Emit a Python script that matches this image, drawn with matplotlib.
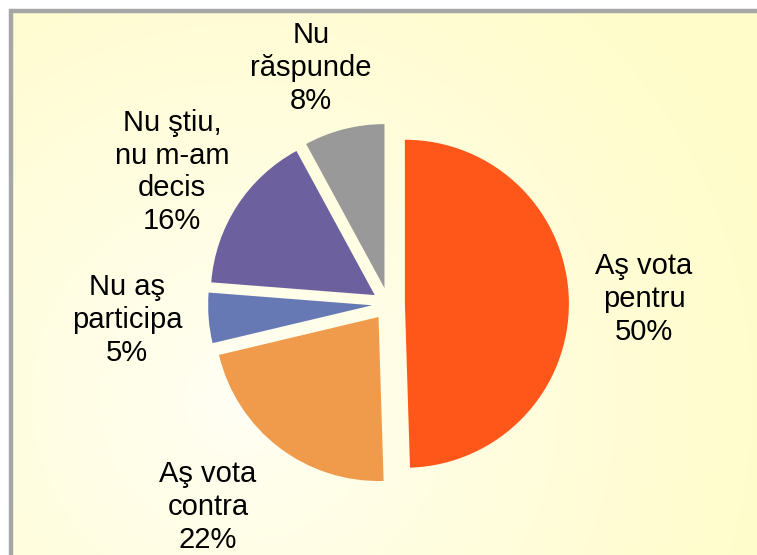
import numpy as np
import matplotlib.pyplot as plt

plt.rcParams['font.family'] = ['Liberation Sans', 'DejaVu Sans']

# survey answers, clockwise from the top
labels = ['Aş vota\npentru', 'Aş vota\ncontra', 'Nu aş\nparticipa',
          'Nu ştiu,\nnu m-am\ndecis', 'Nu\nrăspunde']
values = [50, 22, 5, 16, 8]
colors = ['#FF5719', '#F09B4B', '#6679B5', '#6C619E', '#999999']

# where each label sits (data units, pie radius = 1)
label_pos = [(1.558, 0.03), (-1.101, -1.238), (-1.595, -0.098),
             (-1.320, 0.805), (-0.473, 1.439)]

W, H = 757, 555
fig = plt.figure(figsize=(W / 100, H / 100), dpi=100)
fig.patch.set_facecolor('white')
ax = fig.add_axes([0, 0, 1, 1])
ax.set_axis_off()

R = 164.0
cx, cy = 388.5, 304.0
x0, x1 = -cx / R, (W - cx) / R
y0, y1 = -(H - cy) / R, cy / R

# soft yellow background, lighter towards the lower left
left, top = 10.5, 10.5
pad = 20
gx = np.linspace(left, W + pad, 300)
gy = np.linspace(top, H + pad, 220)
GX, GY = np.meshgrid(gx, gy)
dist = np.sqrt((GX - 240) ** 2 + (GY - 400) ** 2) / 560
t = np.clip(dist, 0, 1)[..., None] ** 0.8
light = np.array([255, 255, 246]) / 255
yellow = np.array([255, 252, 202]) / 255
img = light * (1 - t) + yellow * t
ax.imshow(img, extent=[(left - cx) / R, (W + pad - cx) / R,
                       (cy - H - pad) / R, (cy - top) / R],
          origin='upper', aspect='auto', zorder=0, interpolation='bilinear')

# grey frame: only the left and top edges are in the crop
fx, fy = (left - cx) / R, (cy - top) / R
ax.plot([fx, fx, x1 + 0.1], [y0 - 0.1, fy, fy], color='#A6A6A6',
        linewidth=3.2, solid_joinstyle='miter', clip_on=False, zorder=1)

wedges, _ = ax.pie(values, colors=colors, startangle=90, counterclock=False,
                   explode=[0.1] * len(values), radius=1,
                   wedgeprops=dict(linewidth=0))
for w in wedges:
    w.set_zorder(2)

for lab, v, (lx, ly) in zip(labels, values, label_pos):
    ax.text(lx, ly, f'{lab}\n{v}%', ha='center', va='center', fontsize=21,
            linespacing=1.21, color='black', zorder=3)

ax.set_xlim(x0, x1)
ax.set_ylim(y0, y1)
ax.set_aspect('auto')

fig.savefig('out.png', dpi=100)
